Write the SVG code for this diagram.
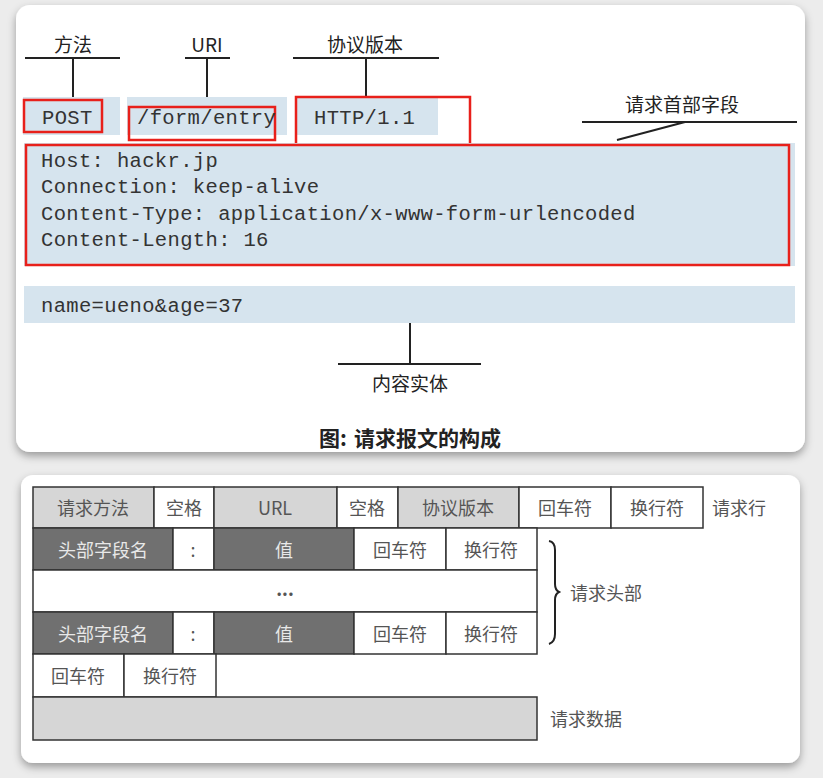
<svg xmlns="http://www.w3.org/2000/svg" width="823" height="778" viewBox="0 0 823 778">
<defs>
<filter id="sh" x="-5%" y="-5%" width="110%" height="115%">
<feDropShadow dx="0" dy="4" stdDeviation="4" flood-color="#000" flood-opacity="0.35"/>
</filter>
<style>
.card{fill:#fff;filter:url(#sh)}
.blue{fill:#d6e4ee}
.red{fill:none;stroke:#e8201b;stroke-width:2.5}
.mono{font-family:"Liberation Mono","DejaVu Sans Mono",monospace;font-size:20.5px;letter-spacing:0.35px;fill:#333}
.lbl{font-family:"Noto Sans CJK SC","Noto Sans",sans-serif;font-size:19px;fill:#222;text-anchor:middle;dominant-baseline:central}
.ln{stroke:#222;stroke-width:2;fill:none}
.cap{font-family:"Noto Sans CJK SC","Noto Sans",sans-serif;font-size:21px;font-weight:bold;fill:#222;text-anchor:middle;dominant-baseline:central}
.cl{fill:#d6d6d6;stroke:#333;stroke-width:1.5}
.cw{fill:#fff;stroke:#333;stroke-width:1.5}
.cd{fill:#707070;stroke:#333;stroke-width:1.5}
.t{font-family:"Noto Sans CJK SC","Noto Sans",sans-serif;font-size:18px;fill:#555;text-anchor:middle;dominant-baseline:central}
.td{font-family:"Noto Sans CJK SC","Noto Sans",sans-serif;font-size:18px;fill:#e8e8e8;text-anchor:middle;dominant-baseline:central}
.tr{font-family:"Noto Sans CJK SC","Noto Sans",sans-serif;font-size:18px;fill:#555;dominant-baseline:central}
</style>
</defs>
<rect x="0" y="0" width="823" height="778" fill="#ececec"/>
<rect class="card" x="16" y="5" width="789" height="447" rx="14"/>
<rect class="card" x="21" y="475" width="779" height="288" rx="12"/>

<g id="connectors">
<path class="ln" d="M25 58H120M73 58V97"/>
<path class="ln" d="M185 58H230M207 58V97"/>
<path class="ln" d="M293 58H439M366 58V97"/>
<path class="ln" d="M582 122H797M685 122L617 140"/>
<path class="ln" d="M410 323V364M338 364H481"/>
<path class="ln" stroke-width="1.5" d="M549 541Q555 542 555 550V584Q555 590 559 592Q555 594 555 600V634Q555 642 549 644"/>
</g>

<g id="label-method"><text class="lbl" x="73" y="43">方法</text></g>
<g id="label-uri"><text class="lbl" x="207" y="43">URI</text></g>
<g id="label-version"><text class="lbl" x="365" y="43">协议版本</text></g>
<g id="label-headers"><text class="lbl" x="682" y="103">请求首部字段</text></g>

<g id="node-post">
<rect class="blue" x="23" y="97" width="97" height="38"/>
<rect class="red" x="24" y="100" width="78" height="32"/>
<text class="mono" x="42" y="124">POST</text>
</g>
<g id="node-uri">
<rect class="blue" x="127" y="97" width="160" height="38"/>
<rect class="red" x="129" y="107" width="146" height="33"/>
<text class="mono" x="137" y="124">/form/entry</text>
</g>
<g id="node-version">
<rect class="blue" x="297" y="97" width="141" height="38"/>
<rect class="red" x="296" y="97" width="174" height="50"/>
<text class="mono" x="314" y="124">HTTP/1.1</text>
</g>
<g id="node-header-fields">
<rect class="blue" x="24" y="143" width="771" height="123"/>
<rect class="red" x="26" y="145" width="763" height="120"/>
<text class="mono" x="41" y="167">Host: hackr.jp</text>
<text class="mono" x="41" y="193">Connection: keep-alive</text>
<text class="mono" x="41" y="220">Content-Type: application/x-www-form-urlencoded</text>
<text class="mono" x="41" y="246">Content-Length: 16</text>
</g>
<g id="node-body">
<rect class="blue" x="24" y="286" width="771" height="37"/>
<text class="mono" x="41" y="312">name=ueno&amp;age=37</text>
</g>
<g id="label-entity"><text class="lbl" x="410" y="382">内容实体</text></g>
<g id="caption"><text class="cap" x="410" y="437"><tspan>图:</tspan><tspan dx="7">请求报文的构成</tspan></text></g>

<g id="row-request-line">
<rect class="cl" x="33" y="487" width="121" height="41"/><text class="t" x="93" y="507">请求方法</text>
<rect class="cw" x="154" y="487" width="60" height="41"/><text class="t" x="184" y="507">空格</text>
<rect class="cl" x="214" y="487" width="123" height="41"/><text class="t" x="275" y="507" font-size="16">URL</text>
<rect class="cw" x="337" y="487" width="61" height="41"/><text class="t" x="367" y="507">空格</text>
<rect class="cl" x="398" y="487" width="121" height="41"/><text class="t" x="458" y="507">协议版本</text>
<rect class="cw" x="519" y="487" width="92" height="41"/><text class="t" x="565" y="507">回车符</text>
<rect class="cw" x="611" y="487" width="92" height="41"/><text class="t" x="657" y="507">换行符</text>
<text class="tr" x="712" y="507">请求行</text>
</g>
<g id="row-header-1">
<rect class="cd" x="33" y="528" width="140" height="42"/><text class="td" x="103" y="549">头部字段名</text>
<rect class="cw" x="173" y="528" width="41" height="42"/><text class="t" x="193" y="549">:</text>
<rect class="cd" x="214" y="528" width="140" height="42"/><text class="td" x="284" y="549">值</text>
<rect class="cw" x="354" y="528" width="92" height="42"/><text class="t" x="400" y="549">回车符</text>
<rect class="cw" x="446" y="528" width="91" height="42"/><text class="t" x="491" y="549">换行符</text>
</g>
<g id="row-ellipsis">
<rect class="cw" x="33" y="570" width="504" height="42"/><text class="t" x="285" y="588" font-family="Liberation Sans, sans-serif" font-weight="bold" font-size="16">...</text>
</g>
<g id="row-header-2">
<rect class="cd" x="33" y="612" width="140" height="42"/><text class="td" x="103" y="633">头部字段名</text>
<rect class="cw" x="173" y="612" width="41" height="42"/><text class="t" x="193" y="633">:</text>
<rect class="cd" x="214" y="612" width="140" height="42"/><text class="td" x="284" y="633">值</text>
<rect class="cw" x="354" y="612" width="92" height="42"/><text class="t" x="400" y="633">回车符</text>
<rect class="cw" x="446" y="612" width="91" height="42"/><text class="t" x="491" y="633">换行符</text>
</g>
<g id="label-request-header"><text class="tr" x="570" y="592">请求头部</text></g>
<g id="row-blank-line">
<rect class="cw" x="33" y="654" width="91" height="43"/><text class="t" x="78" y="675">回车符</text>
<rect class="cw" x="124" y="654" width="92" height="43"/><text class="t" x="170" y="675">换行符</text>
</g>
<g id="row-request-data">
<rect class="cl" x="33" y="697" width="504" height="43"/>
<text class="tr" x="550" y="718">请求数据</text>
</g>
</svg>
